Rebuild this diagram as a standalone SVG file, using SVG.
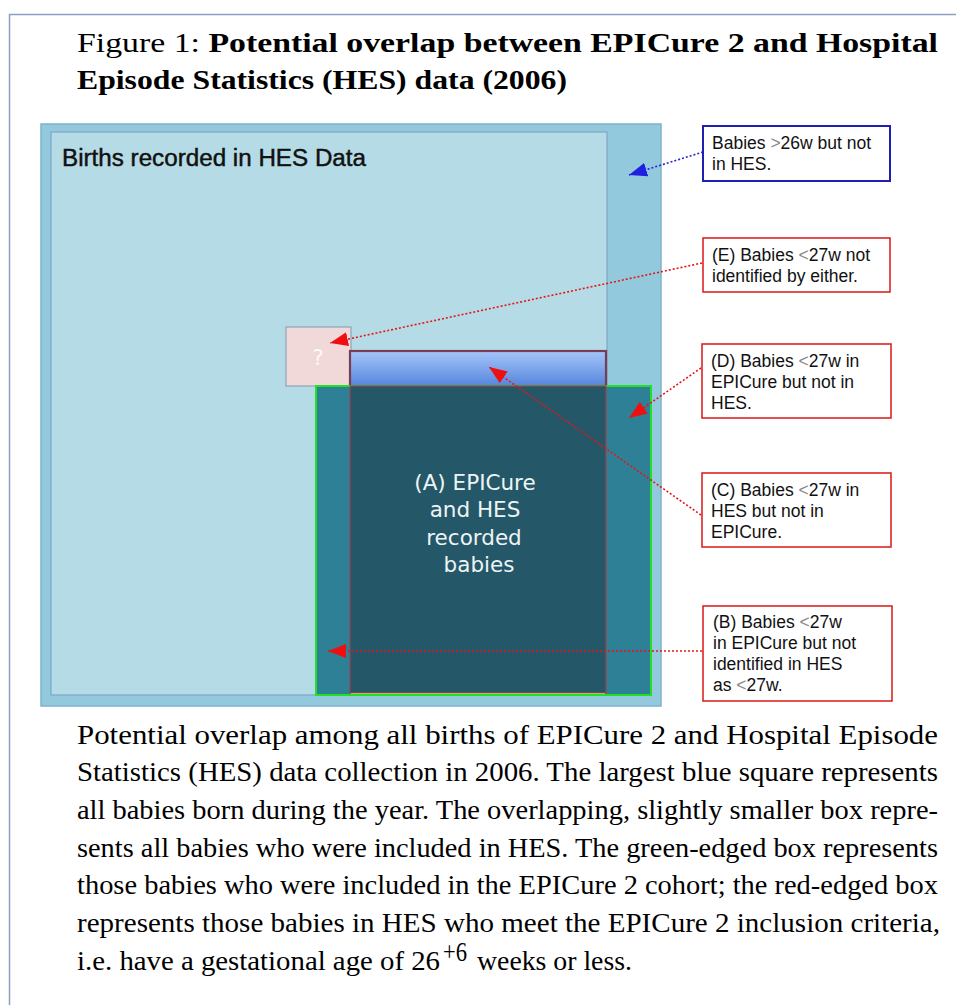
<svg xmlns="http://www.w3.org/2000/svg" width="956" height="1005" viewBox="0 0 956 1005">
<style>
.cap{font-family:"Liberation Serif","Times New Roman",serif;font-size:28px;fill:#000}
.call{font-family:"Liberation Sans",Arial,sans-serif;font-size:17.5px;fill:#111}
.g{fill:#888}
.dashR{fill:none;stroke:#e81414;stroke-width:1.6;stroke-dasharray:2 2}
.dashB{fill:none;stroke:#2424d8;stroke-width:1.6;stroke-dasharray:2 2}
.boxR{fill:#fff;stroke:#dd2525;stroke-width:1.6}
.boxB{fill:#fff;stroke:#2020b0;stroke-width:2}
</style>
<defs>
<linearGradient id="gr" gradientUnits="userSpaceOnUse" x1="0" y1="351" x2="0" y2="386">
<stop offset="0" stop-color="#a6c6fa"/>
<stop offset="1" stop-color="#5585dc"/>
</linearGradient>
<marker id="ahR" markerUnits="userSpaceOnUse" markerWidth="20" markerHeight="14" refX="18" refY="7" orient="auto">
<path d="M0,0 L18,7 L0,14 Z" fill="#ee1010"/>
</marker>
<marker id="ahB" markerUnits="userSpaceOnUse" markerWidth="20" markerHeight="14" refX="18" refY="7" orient="auto">
<path d="M0,0 L18,7 L0,14 Z" fill="#2020e0"/>
</marker>
</defs>
<rect x="0" y="0" width="956" height="1005" fill="#fff"/>
<rect x="9.5" y="14.5" width="1000" height="1100" fill="none" stroke="#8ea0c2" stroke-width="1.5"/>

<g id="title">
<text class="cap" x="77" y="52" textLength="861" lengthAdjust="spacingAndGlyphs">Figure 1: <tspan font-weight="bold">Potential overlap between EPICure 2 and Hospital</tspan></text>
<text class="cap" x="77" y="89" font-weight="bold" textLength="490" lengthAdjust="spacingAndGlyphs">Episode Statistics (HES) data (2006)</text>
</g>

<g id="all-births">
<rect x="41" y="124" width="620" height="582" fill="#93c9dd" stroke="#7eb2cb" stroke-width="1.5"/>
</g>
<g id="hes-data">
<rect x="51" y="132" width="556" height="563" fill="#b5dce6" stroke="#7fa5c6" stroke-width="1.2"/>
<text x="62" y="166" font-family="Liberation Sans, Arial, sans-serif" font-size="23" fill="#111" stroke="#111" stroke-width="0.45" textLength="304" lengthAdjust="spacingAndGlyphs">Births recorded in HES Data</text>
</g>
<g id="unknown-E">
<rect x="286" y="327" width="65" height="59" fill="#f2d9d9" stroke="#8ea2bb" stroke-width="1.2"/>
<text x="318" y="365" font-family="DejaVu Sans, sans-serif" font-size="21" fill="#fff" fill-opacity="0.85" text-anchor="middle">?</text>
</g>
<g id="hes-under27">
<rect x="350" y="351" width="256" height="342" fill="url(#gr)" stroke="#7a3c52" stroke-width="2.2"/>
</g>
<g id="epicure">
<rect x="316" y="386" width="335" height="309" fill="#2e8096" stroke="#22e022" stroke-width="2"/>
<rect x="350" y="386" width="256" height="307" fill="#245868" stroke="#a3404e" stroke-width="1.2"/>
<line x1="351" y1="693.5" x2="605" y2="693.5" stroke="#c9b06a" stroke-width="1.2"/>
<g font-family="DejaVu Sans, sans-serif" font-size="21.5" fill="#eef4f6" text-anchor="middle">
<text x="475" y="490">(A) EPICure</text>
<text x="475" y="517">and HES</text>
<text x="474" y="545">recorded</text>
<text x="479" y="572">babies</text>
</g>
</g>

<g id="connectors">
<line class="dashB" x1="703" y1="152" x2="629" y2="175" marker-end="url(#ahB)"/>
<line class="dashR" x1="702" y1="263" x2="330" y2="343" marker-end="url(#ahR)"/>
<line class="dashR" x1="701" y1="368" x2="629" y2="418" marker-end="url(#ahR)"/>
<line class="dashR" x1="701" y1="515" x2="489" y2="367" marker-end="url(#ahR)"/>
<line class="dashR" x1="702" y1="651" x2="328" y2="651" marker-end="url(#ahR)"/>
</g>

<g id="callout-not-hes">
<rect class="boxB" x="703" y="126" width="187" height="55"/>
<text class="call" x="712" y="149">Babies <tspan class="g">&gt;</tspan>26w but not</text>
<text class="call" x="712" y="170">in HES.</text>
</g>
<g id="callout-E">
<rect class="boxR" x="703" y="238" width="187" height="54"/>
<text class="call" x="712" y="261">(E) Babies <tspan class="g">&lt;</tspan>27w not</text>
<text class="call" x="712" y="282">identified by either.</text>
</g>
<g id="callout-D">
<rect class="boxR" x="702" y="344" width="189" height="74"/>
<text class="call" x="711" y="367">(D) Babies <tspan class="g">&lt;</tspan>27w in</text>
<text class="call" x="711" y="388">EPICure but not in</text>
<text class="call" x="711" y="409">HES.</text>
</g>
<g id="callout-C">
<rect class="boxR" x="702" y="473" width="189" height="74"/>
<text class="call" x="711" y="496">(C) Babies <tspan class="g">&lt;</tspan>27w in</text>
<text class="call" x="711" y="517">HES but not in</text>
<text class="call" x="711" y="538">EPICure.</text>
</g>
<g id="callout-B">
<rect class="boxR" x="703" y="606" width="189" height="95"/>
<text class="call" x="713" y="628">(B) Babies <tspan class="g">&lt;</tspan>27w</text>
<text class="call" x="713" y="649">in EPICure but not</text>
<text class="call" x="713" y="670">identified in HES</text>
<text class="call" x="713" y="691">as <tspan class="g">&lt;</tspan>27w.</text>
</g>

<g id="caption">
<text class="cap" x="77" y="744" textLength="861" lengthAdjust="spacingAndGlyphs">Potential overlap among all births of EPICure 2 and Hospital Episode</text>
<text class="cap" x="77" y="781" textLength="861" lengthAdjust="spacingAndGlyphs">Statistics (HES) data collection in 2006. The largest blue square represents</text>
<text class="cap" x="77" y="819" textLength="861" lengthAdjust="spacingAndGlyphs">all babies born during the year. The overlapping, slightly smaller box repre-</text>
<text class="cap" x="77" y="857" textLength="861" lengthAdjust="spacingAndGlyphs">sents all babies who were included in HES. The green-edged box represents</text>
<text class="cap" x="77" y="894" textLength="861" lengthAdjust="spacingAndGlyphs">those babies who were included in the EPICure 2 cohort; the red-edged box</text>
<text class="cap" x="77" y="932" textLength="863" lengthAdjust="spacingAndGlyphs">represents those babies in HES who meet the EPICure 2 inclusion criteria,</text>
<text class="cap" x="77" y="970" textLength="363" lengthAdjust="spacingAndGlyphs">i.e. have a gestational age of 26</text>
<text class="cap" x="443" y="961" font-size="17" textLength="24" lengthAdjust="spacingAndGlyphs">+6</text>
<text class="cap" x="477" y="970" textLength="155" lengthAdjust="spacingAndGlyphs">weeks or less.</text>
</g>
</svg>
